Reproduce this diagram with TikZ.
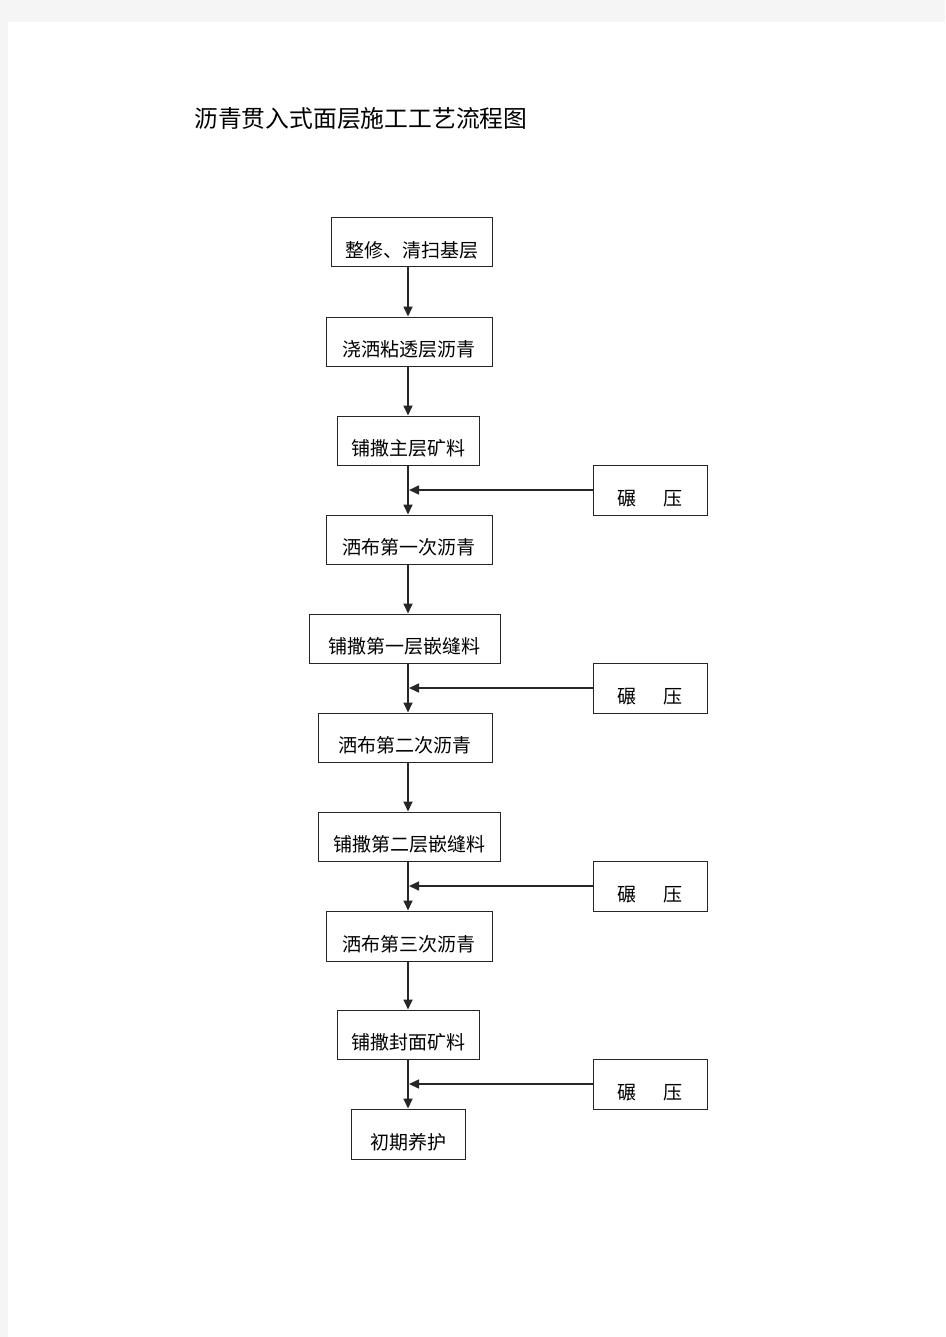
\documentclass[tikz,border=0pt]{standalone}
\usepackage{fontspec}
\newfontfamily\cjk{Noto Sans CJK SC}
\usetikzlibrary{arrows.meta}
\begin{document}
\begin{tikzpicture}[x=1pt,y=-1pt,
  stepbox/.style={draw=black!85, line width=1pt, inner xsep=0pt, inner ysep=0pt,
    font=\cjk\fontsize{19}{19}\selectfont, text height=32pt, text depth=1.6pt,
    minimum height=49pt},
  flow/.style={line width=1.7pt, draw=black!85, -{Triangle[length=10pt,width=9pt]}},
  side/.style={line width=1.5pt, draw=black!85, -{Triangle[length=10pt,width=9pt]}}]
\fill[black!4] (0,0) rectangle (945,1337);
\fill[white] (8,22) rectangle (945,1337);
\useasboundingbox (0,0) rectangle (945,1337);
\node[anchor=base west, font=\cjk\fontsize{23.8}{23.8}\selectfont, inner sep=0pt] (title) at (194,128) {沥青贯入式面层施工工艺流程图};
\coordinate (spine) at (408,0);
\node[stepbox, minimum width=161pt] (b1) at (411.5,242.5) {整修、清扫基层};
\node[stepbox, minimum width=166pt] (b2) at (409,341.5) {浇洒粘透层沥青};
\node[stepbox, minimum width=142pt] (b3) at (408,440.5) {铺撒主层矿料};
\node[stepbox, minimum width=114pt, minimum height=50pt] (r1) at (650,490) {碾\hspace{28pt}压};
\node[stepbox, minimum width=166pt] (b4) at (409,539.5) {洒布第一次沥青};
\node[stepbox, minimum width=191pt] (b5) at (404.5,638.5) {铺撒第一层嵌缝料};
\node[stepbox, minimum width=114pt, minimum height=50pt] (r2) at (650,688) {碾\hspace{28pt}压};
\node[stepbox, minimum width=174pt] (b6) at (405,737.5) {洒布第二次沥青};
\node[stepbox, minimum width=182pt] (b7) at (409,836.5) {铺撒第二层嵌缝料};
\node[stepbox, minimum width=114pt, minimum height=50pt] (r3) at (650,886) {碾\hspace{28pt}压};
\node[stepbox, minimum width=166pt, minimum height=50pt] (b8) at (409,936) {洒布第三次沥青};
\node[stepbox, minimum width=142pt] (b9) at (408,1034.5) {铺撒封面矿料};
\node[stepbox, minimum width=114pt, minimum height=50pt] (r4) at (650,1084) {碾\hspace{28pt}压};
\node[stepbox, minimum width=114pt, minimum height=50pt] (b10) at (408,1134) {初期养护};
\foreach \a/\b in {b1/b2,b2/b3,b3/b4,b4/b5,b5/b6,b6/b7,b7/b8,b8/b9,b9/b10}
  \draw[flow] (spine |- \a.south) -- (spine |- \b.north);
\foreach \r in {r1,r2,r3,r4}
  \draw[side] (\r.west) -- ([xshift=1pt]spine |- \r.west);
\end{tikzpicture}
\end{document}
